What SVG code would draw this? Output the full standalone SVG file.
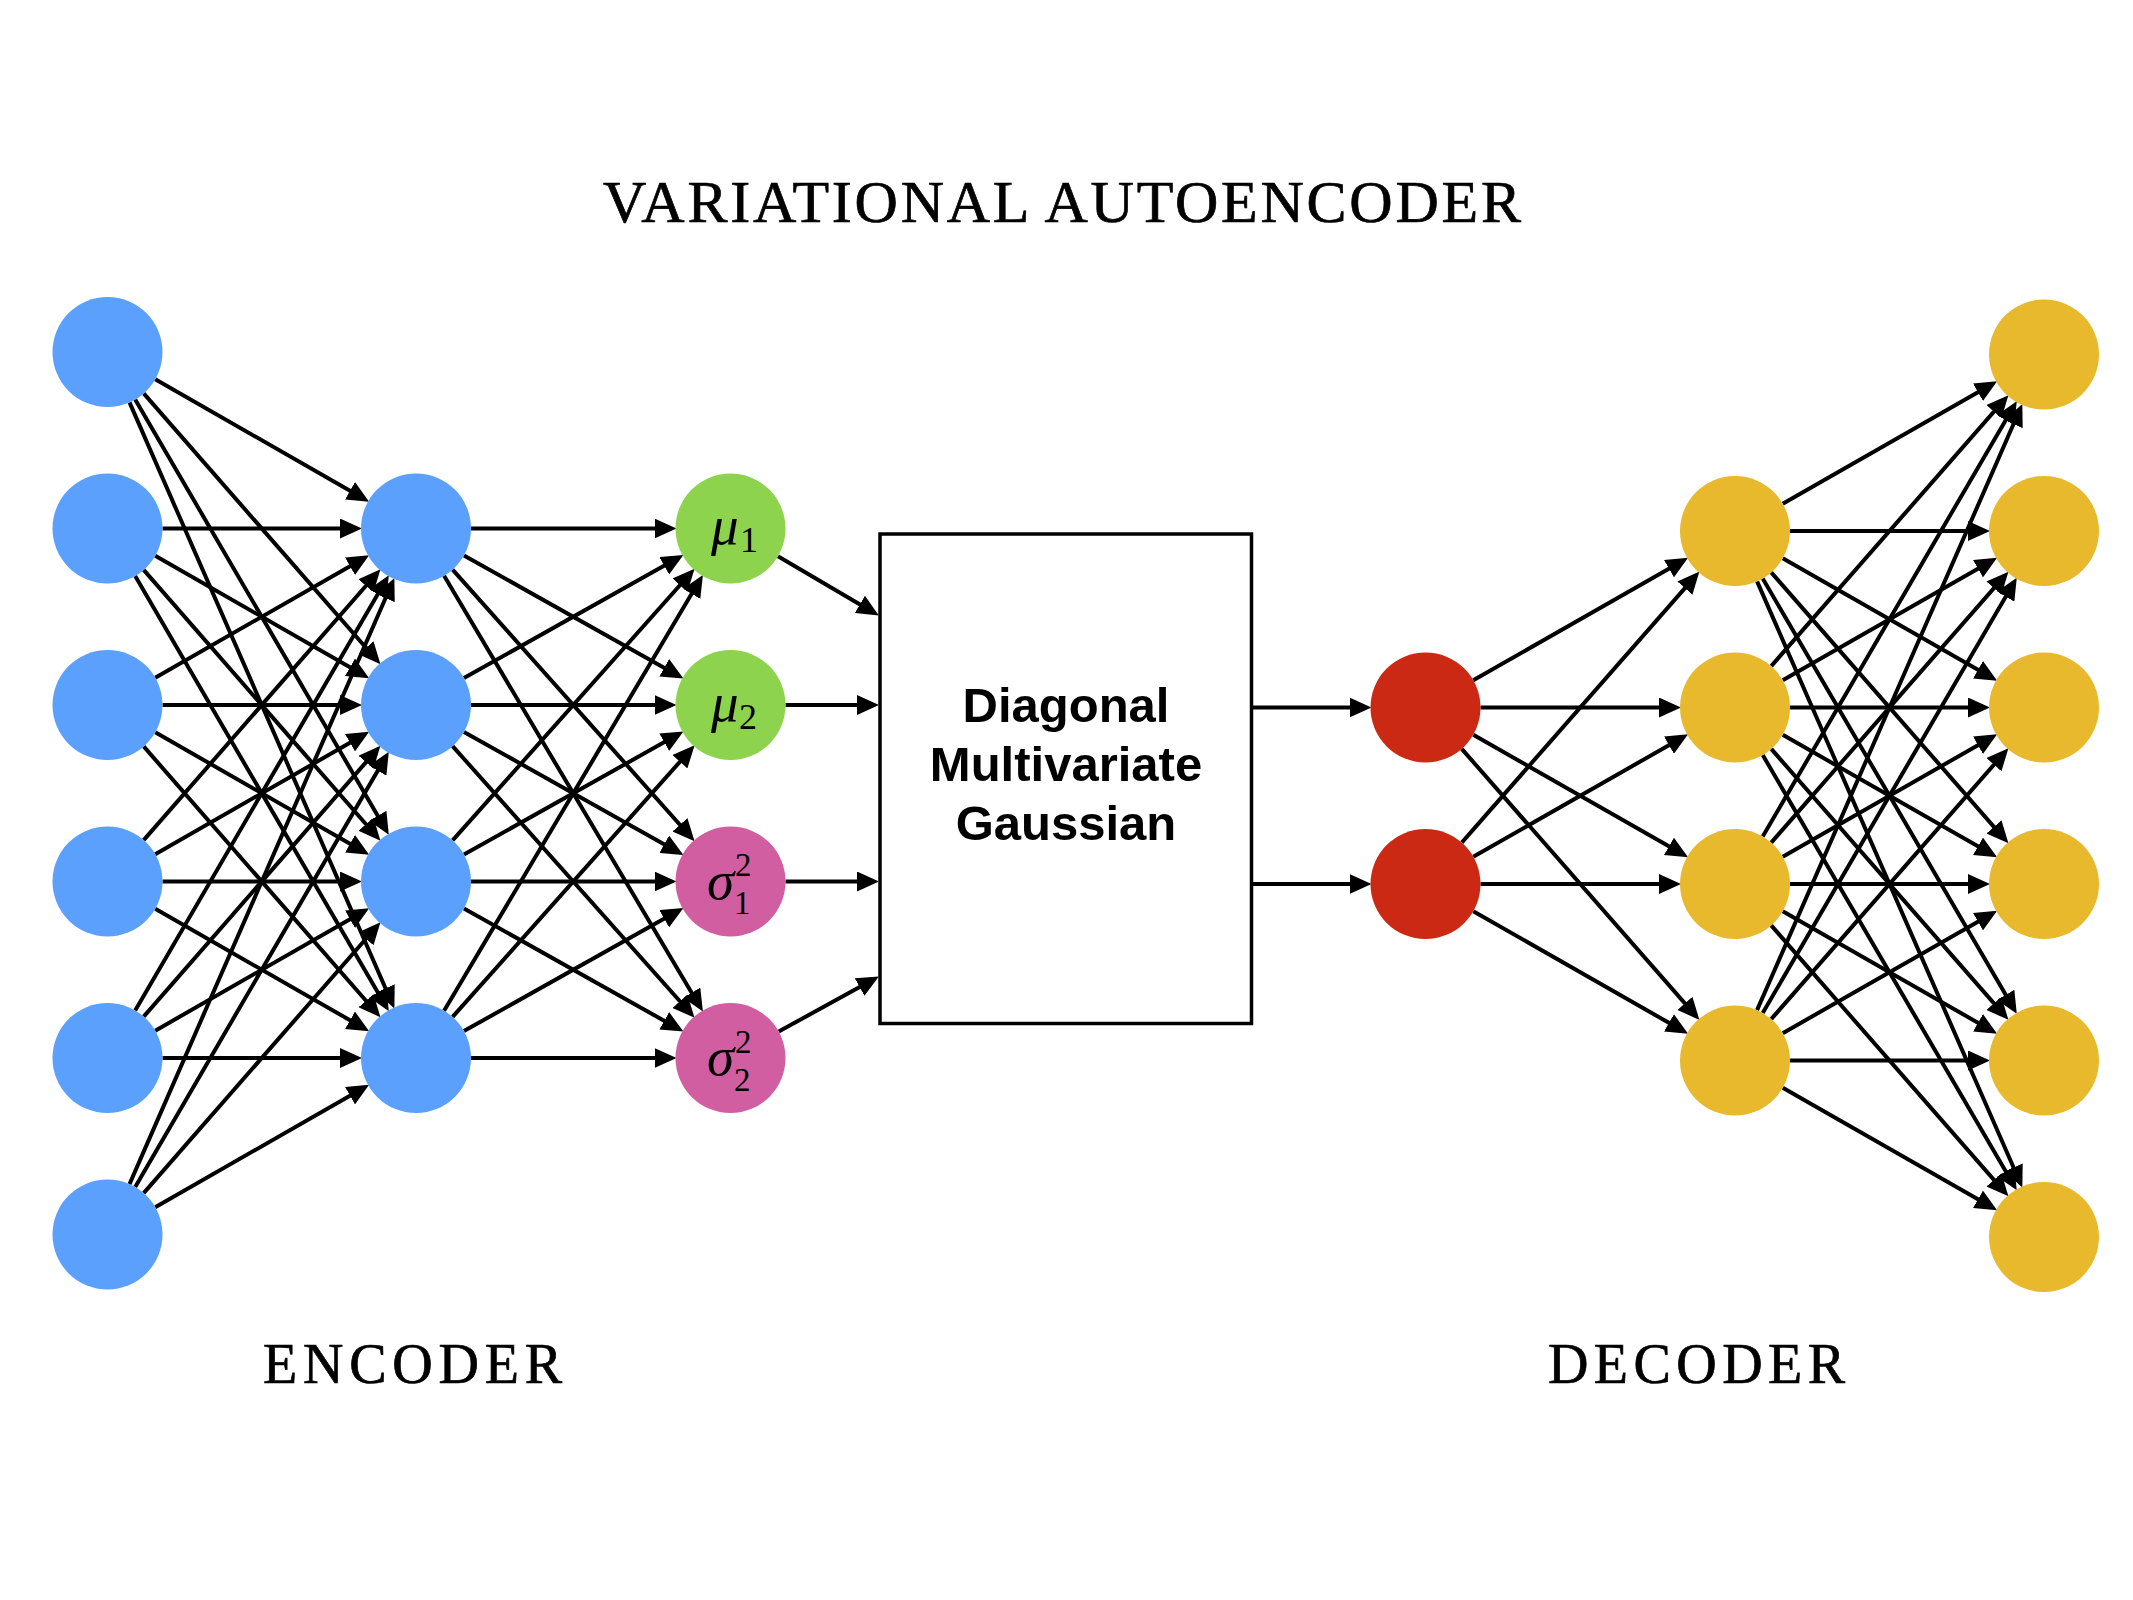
<svg xmlns="http://www.w3.org/2000/svg" width="2133" height="1600" viewBox="0 0 2133 1600">
<style>
.e{stroke:#000;stroke-width:4;fill:none;marker-end:url(#ah)}
.in{fill:#5CA0FD}
.mu{fill:#8ED34E}
.sg{fill:#D25EA2}
.z{fill:#CC2914}
.y{fill:#E8B82D}
.cap{font-family:"Liberation Serif",serif;fill:#000;stroke:#000;stroke-width:0.7}
.box{fill:#fff;stroke:#000;stroke-width:3.5}
.bt{font-family:"Liberation Sans",Arial,sans-serif;font-weight:bold;font-size:49px;fill:#000;text-anchor:middle}
.gk{font-family:"Liberation Serif",serif;font-style:italic;font-size:55px;fill:#000}
.ix{font-style:normal;font-size:36px}
.ix2{font-style:normal;font-size:33px}
</style>
<defs>
<marker id="ah" markerUnits="userSpaceOnUse" markerWidth="22" markerHeight="20" refX="11" refY="10" orient="auto">
<path d="M0,0 L22,10 L0,20 Z" fill="#000"/>
</marker>
</defs>
<rect width="2133" height="1600" fill="#fff"/>
<text class="cap" x="603" y="222" font-size="60" textLength="918">VARIATIONAL AUTOENCODER</text>
<g id="connectors">
<!-- L1 -> L2 -->
<line class="e" x1="155.24" y1="379.31" x2="359.58" y2="496.22"/>
<line class="e" x1="143.69" y1="393.41" x2="373.22" y2="656.05"/>
<line class="e" x1="135.19" y1="399.52" x2="383.28" y2="825.34"/>
<line class="e" x1="129.52" y1="402.40" x2="389.97" y2="998.44"/>
<line class="e" x1="162.5" y1="528.5" x2="351" y2="528.5"/>
<line class="e" x1="155.24" y1="555.81" x2="359.58" y2="672.72"/>
<line class="e" x1="143.69" y1="569.91" x2="373.22" y2="832.55"/>
<line class="e" x1="135.19" y1="576.02" x2="383.28" y2="1001.84"/>
<line class="e" x1="155.24" y1="677.69" x2="359.58" y2="560.78"/>
<line class="e" x1="162.5" y1="705" x2="351" y2="705"/>
<line class="e" x1="155.24" y1="732.31" x2="359.58" y2="849.22"/>
<line class="e" x1="143.69" y1="746.41" x2="373.22" y2="1009.05"/>
<line class="e" x1="143.69" y1="840.09" x2="373.22" y2="577.45"/>
<line class="e" x1="155.24" y1="854.19" x2="359.58" y2="737.28"/>
<line class="e" x1="162.5" y1="881.5" x2="351" y2="881.5"/>
<line class="e" x1="155.24" y1="908.81" x2="359.58" y2="1025.72"/>
<line class="e" x1="135.19" y1="1010.48" x2="383.28" y2="584.66"/>
<line class="e" x1="143.69" y1="1016.59" x2="373.22" y2="753.95"/>
<line class="e" x1="155.24" y1="1030.69" x2="359.58" y2="913.78"/>
<line class="e" x1="162.5" y1="1058" x2="351" y2="1058"/>
<line class="e" x1="129.52" y1="1184.10" x2="389.97" y2="588.06"/>
<line class="e" x1="135.19" y1="1186.98" x2="383.28" y2="761.16"/>
<line class="e" x1="143.69" y1="1193.09" x2="373.22" y2="930.45"/>
<line class="e" x1="155.24" y1="1207.19" x2="359.58" y2="1090.28"/>
<!-- L2 -> L3 -->
<line class="e" x1="471" y1="528.5" x2="665.5" y2="528.5"/>
<line class="e" x1="463.96" y1="555.42" x2="673.82" y2="673.19"/>
<line class="e" x1="452.59" y1="569.56" x2="687.26" y2="832.97"/>
<line class="e" x1="444.09" y1="575.76" x2="697.30" y2="1002.15"/>
<line class="e" x1="463.96" y1="678.08" x2="673.82" y2="560.31"/>
<line class="e" x1="471" y1="705" x2="665.5" y2="705"/>
<line class="e" x1="463.96" y1="731.92" x2="673.82" y2="849.69"/>
<line class="e" x1="452.59" y1="746.06" x2="687.26" y2="1009.47"/>
<line class="e" x1="452.59" y1="840.44" x2="687.26" y2="577.03"/>
<line class="e" x1="463.96" y1="854.58" x2="673.82" y2="736.81"/>
<line class="e" x1="471" y1="881.5" x2="665.5" y2="881.5"/>
<line class="e" x1="463.96" y1="908.42" x2="673.82" y2="1026.19"/>
<line class="e" x1="444.09" y1="1010.74" x2="697.30" y2="584.35"/>
<line class="e" x1="452.59" y1="1016.94" x2="687.26" y2="753.53"/>
<line class="e" x1="463.96" y1="1031.08" x2="673.82" y2="913.31"/>
<line class="e" x1="471" y1="1058" x2="665.5" y2="1058"/>
<!-- L3 -> box -->
<line class="e" x1="777.94" y1="556.32" x2="869.37" y2="609.94"/>
<line class="e" x1="785.5" y1="705" x2="868" y2="705"/>
<line class="e" x1="785.5" y1="881.5" x2="868" y2="881.5"/>
<line class="e" x1="778.71" y1="1031.53" x2="869.24" y2="981.81"/>
<!-- box -> latent -->
<line class="e" x1="1253" y1="707.5" x2="1360.5" y2="707.5"/>
<line class="e" x1="1253" y1="884" x2="1360.5" y2="884"/>
<!-- latent -> H -->
<line class="e" x1="1473.28" y1="680.25" x2="1678.53" y2="563.20"/>
<line class="e" x1="1480.5" y1="707.5" x2="1670" y2="707.5"/>
<line class="e" x1="1473.28" y1="734.75" x2="1678.53" y2="851.80"/>
<line class="e" x1="1461.76" y1="748.85" x2="1692.15" y2="1011.63"/>
<line class="e" x1="1461.76" y1="842.65" x2="1692.15" y2="579.87"/>
<line class="e" x1="1473.28" y1="856.75" x2="1678.53" y2="739.70"/>
<line class="e" x1="1480.5" y1="884" x2="1670" y2="884"/>
<line class="e" x1="1473.28" y1="911.25" x2="1678.53" y2="1028.30"/>
<!-- H -> O -->
<line class="e" x1="1782.76" y1="503.72" x2="1987.56" y2="386.74"/>
<line class="e" x1="1790" y1="531" x2="1979" y2="531"/>
<line class="e" x1="1782.76" y1="558.28" x2="1987.56" y2="675.26"/>
<line class="e" x1="1771.23" y1="572.38" x2="2001.18" y2="835.09"/>
<line class="e" x1="1762.72" y1="578.50" x2="2011.24" y2="1004.36"/>
<line class="e" x1="1757.06" y1="581.37" x2="2017.93" y2="1177.47"/>
<line class="e" x1="1771.23" y1="666.12" x2="2001.18" y2="403.41"/>
<line class="e" x1="1782.76" y1="680.22" x2="1987.56" y2="563.24"/>
<line class="e" x1="1790" y1="707.5" x2="1979" y2="707.5"/>
<line class="e" x1="1782.76" y1="734.78" x2="1987.56" y2="851.76"/>
<line class="e" x1="1771.23" y1="748.88" x2="2001.18" y2="1011.59"/>
<line class="e" x1="1762.72" y1="755.00" x2="2011.24" y2="1180.86"/>
<line class="e" x1="1762.72" y1="836.50" x2="2011.24" y2="410.64"/>
<line class="e" x1="1771.23" y1="842.62" x2="2001.18" y2="579.91"/>
<line class="e" x1="1782.76" y1="856.72" x2="1987.56" y2="739.74"/>
<line class="e" x1="1790" y1="884" x2="1979" y2="884"/>
<line class="e" x1="1782.76" y1="911.28" x2="1987.56" y2="1028.26"/>
<line class="e" x1="1771.23" y1="925.38" x2="2001.18" y2="1188.09"/>
<line class="e" x1="1757.06" y1="1010.13" x2="2017.93" y2="414.03"/>
<line class="e" x1="1762.72" y1="1013.00" x2="2011.24" y2="587.14"/>
<line class="e" x1="1771.23" y1="1019.12" x2="2001.18" y2="756.41"/>
<line class="e" x1="1782.76" y1="1033.22" x2="1987.56" y2="916.24"/>
<line class="e" x1="1790" y1="1060.5" x2="1979" y2="1060.5"/>
<line class="e" x1="1782.76" y1="1087.78" x2="1987.56" y2="1204.76"/>
</g>
<g id="in1"><circle class="in" cx="107.5" cy="352" r="55"/></g>
<g id="in2"><circle class="in" cx="107.5" cy="528.5" r="55"/></g>
<g id="in3"><circle class="in" cx="107.5" cy="705" r="55"/></g>
<g id="in4"><circle class="in" cx="107.5" cy="881.5" r="55"/></g>
<g id="in5"><circle class="in" cx="107.5" cy="1058" r="55"/></g>
<g id="in6"><circle class="in" cx="107.5" cy="1234.5" r="55"/></g>
<g id="enc1"><circle class="in" cx="416" cy="528.5" r="55"/></g>
<g id="enc2"><circle class="in" cx="416" cy="705" r="55"/></g>
<g id="enc3"><circle class="in" cx="416" cy="881.5" r="55"/></g>
<g id="enc4"><circle class="in" cx="416" cy="1058" r="55"/></g>
<g id="mu1"><circle class="mu" cx="730.5" cy="528.5" r="55"/>
<text class="gk" x="711" y="544">μ<tspan class="ix" x="740" y="552">1</tspan></text></g>
<g id="mu2"><circle class="mu" cx="730.5" cy="705" r="55"/>
<text class="gk" x="711" y="720.5">μ<tspan class="ix" x="739" y="728.5">2</tspan></text></g>
<g id="sigma1"><circle class="sg" cx="730.5" cy="881.5" r="55"/>
<text class="gk" x="707" y="898.5">σ<tspan class="ix2" x="735" y="876">2</tspan><tspan class="ix2" x="734" y="914">1</tspan></text></g>
<g id="sigma2"><circle class="sg" cx="730.5" cy="1058" r="55"/>
<text class="gk" x="707" y="1075">σ<tspan class="ix2" x="735" y="1052.5">2</tspan><tspan class="ix2" x="734" y="1090.5">2</tspan></text></g>
<g id="gaussian"><rect class="box" x="880" y="534" width="371.5" height="489.5"/>
<text class="bt" x="1066" y="722">Diagonal</text>
<text class="bt" x="1066" y="781">Multivariate</text>
<text class="bt" x="1066" y="840">Gaussian</text></g>
<g id="z1"><circle class="z" cx="1425.5" cy="707.5" r="55"/></g>
<g id="z2"><circle class="z" cx="1425.5" cy="884" r="55"/></g>
<g id="dec1"><circle class="y" cx="1735" cy="531" r="55"/></g>
<g id="dec2"><circle class="y" cx="1735" cy="707.5" r="55"/></g>
<g id="dec3"><circle class="y" cx="1735" cy="884" r="55"/></g>
<g id="dec4"><circle class="y" cx="1735" cy="1060.5" r="55"/></g>
<g id="out1"><circle class="y" cx="2044" cy="354.5" r="55"/></g>
<g id="out2"><circle class="y" cx="2044" cy="531" r="55"/></g>
<g id="out3"><circle class="y" cx="2044" cy="707.5" r="55"/></g>
<g id="out4"><circle class="y" cx="2044" cy="884" r="55"/></g>
<g id="out5"><circle class="y" cx="2044" cy="1060.5" r="55"/></g>
<g id="out6"><circle class="y" cx="2044" cy="1237" r="55"/></g>
<text class="cap" x="263" y="1383" font-size="56" textLength="299">ENCODER</text>
<text class="cap" x="1548" y="1383" font-size="56" textLength="297">DECODER</text>
</svg>
